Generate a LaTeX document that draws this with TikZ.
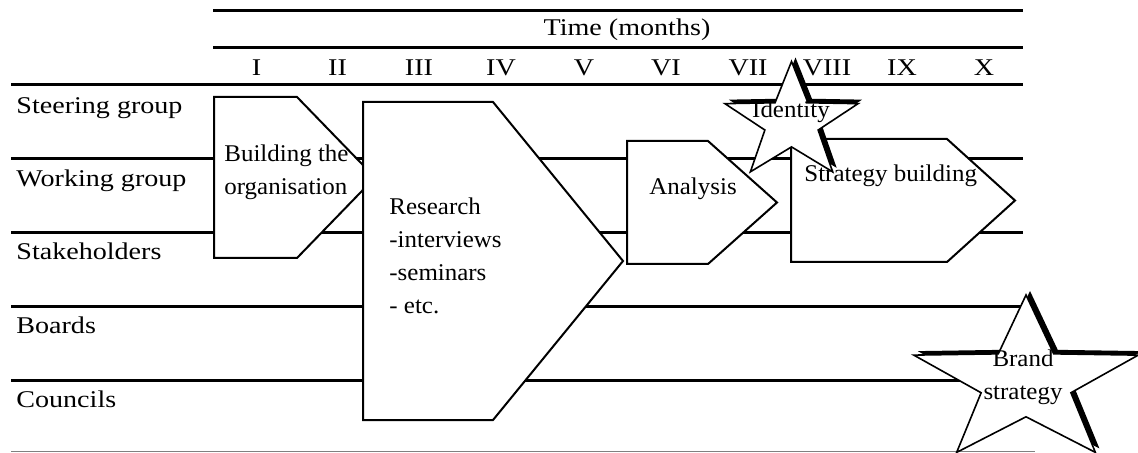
\documentclass[tikz,border=0pt]{standalone}
\usepackage{fontspec}
\newfontfamily\labelfont[FakeStretch=1.17]{Liberation Serif}
\newfontfamily\boxfont[FakeStretch=1.04]{Liberation Serif}

% five-pointed star with separate horizontal and vertical radii
\newcommand\fivestar[5]{%
  \begin{scope}[shift={(#2,#3)}]
    \path[#1] (270:#4 and #5) -- (306:0.4*#4 and 0.4*#5) -- (342:#4 and #5)
      -- (18:0.4*#4 and 0.4*#5) -- (54:#4 and #5) -- (90:0.4*#4 and 0.4*#5)
      -- (126:#4 and #5) -- (162:0.4*#4 and 0.4*#5) -- (198:#4 and #5)
      -- (234:0.4*#4 and 0.4*#5) -- cycle;
  \end{scope}}

\begin{document}
\begin{tikzpicture}[x=0.5pt,y=-0.5pt,
  rule/.style={line width=1.5pt},
  phase/.style={draw=black,fill=white,line width=1pt,line join=miter},
  starline/.style={draw=black,fill=white,line width=0.8pt,line join=miter},
  starshadow/.style={fill=black},
  lbl/.style={font=\labelfont\fontsize{12pt}{16.5pt}\selectfont,inner sep=0pt},
  txt/.style={font=\boxfont\fontsize{12pt}{16.5pt}\selectfont,inner sep=0pt,align=left}]

\useasboundingbox (0,0) rectangle (1138,453);

% header rules
\draw[rule] (213,11) -- (1023,11);
\draw[rule] (213,48) -- (1023,48);
\draw[rule] (11,85) -- (1023,85);
% row rules
\foreach \yy in {159,233,307,381}
  \draw[rule] (11,\yy) -- (1023,\yy);
% bottom rule
\draw[gray,line width=0.5pt] (11,451.5) -- (1035,451.5);

% phases
\draw[phase] (214,97) -- (297,97) -- (375,177.5) -- (297,258) -- (214,258) -- cycle;
\draw[phase] (363,102) -- (493,102) -- (623,261) -- (493,420) -- (363,420) -- cycle;
\draw[phase] (627,141) -- (708,141) -- (777,202.5) -- (708,264) -- (627,264) -- cycle;
\draw[phase] (791,139) -- (947,139) -- (1015,200.5) -- (947,262) -- (791,262) -- cycle;

% milestones
\fivestar{starshadow}{795.5}{118.5}{70}{61}
\fivestar{starline}{791.5}{122.5}{70}{61}
\fivestar{starshadow}{1030}{378}{118}{87}
\fivestar{starline}{1026}{382}{118}{87}

% header text
\node[lbl,anchor=base] (time) at (627,36) {Time (months)};
\node[lbl,anchor=base] (m1) at (256.5,76) {I};
\node[lbl,anchor=base] (m2) at (337.5,76) {II};
\node[lbl,anchor=base] (m3) at (419,76) {III};
\node[lbl,anchor=base] (m4) at (501,76) {IV};
\node[lbl,anchor=base] (m5) at (584,76) {V};
\node[lbl,anchor=base] (m6) at (666,76) {VI};
\node[lbl,anchor=base] (m7) at (748,76) {VII};
\node[lbl,anchor=base] (m8) at (827,76) {VIII};
\node[lbl,anchor=base] (m9) at (902,76) {IX};
\node[lbl,anchor=base] (m10) at (984,76) {X};

% row labels
\node[lbl,anchor=base west] (steer) at (16,114) {Steering group};
\node[lbl,anchor=base west] (work) at (16,187) {Working group};
\node[lbl,anchor=base west] (stake) at (16,260) {Stakeholders};
\node[lbl,anchor=base west] (boards) at (16,334) {Boards};
\node[lbl,anchor=base west] (councils) at (16,408) {Councils};

% phase texts (multi-line nodes sit on the baseline of their last line)
\node[txt,anchor=base west] (build) at (224,195) {Building the\\organisation};
\node[txt,anchor=base west] (research) at (389,314) {Research\\-interviews\\-seminars\\- etc.};
\node[txt,anchor=base west] (analysis) at (649,195) {Analysis};
\node[txt,anchor=base west] (strategy) at (804,182) {Strategy building};
\node[txt,anchor=base] (identity) at (791,118) {Identity};
\node[txt,anchor=base,align=center] (brand) at (1023,400) {Brand\\strategy};
\end{tikzpicture}
\end{document}
